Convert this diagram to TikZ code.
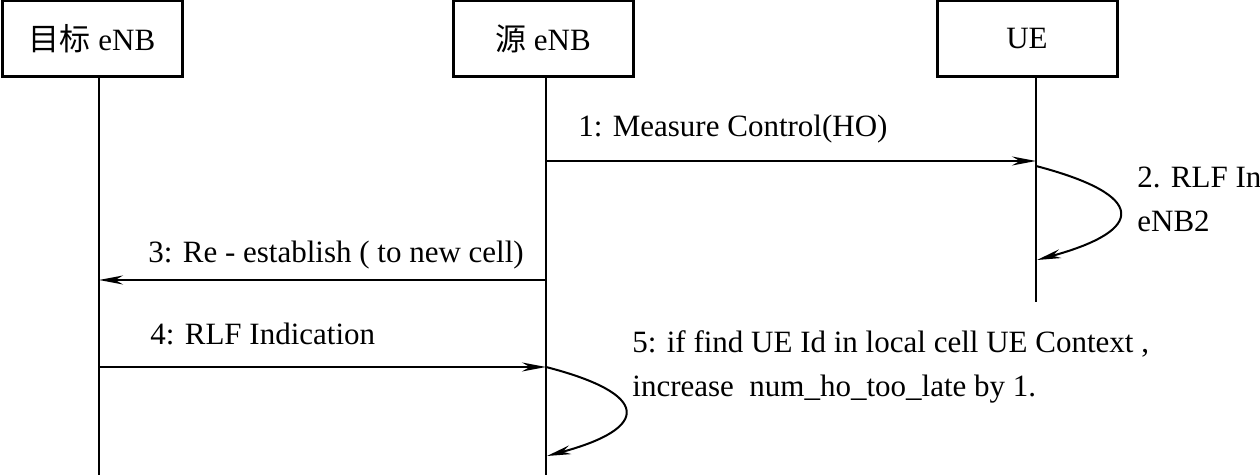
\documentclass[tikz,border=0pt]{standalone}
\usepackage{fontspec}
\setmainfont{Liberation Serif}
\newfontfamily\cjk{Noto Sans CJK SC}
\usetikzlibrary{arrows.meta, positioning}

\begin{document}
\begin{tikzpicture}[
    x=0.5pt, y=-0.5pt,
    node distance=134pt,
    entity/.style={rectangle, draw=black, line width=1.5pt, fill=white, minimum width=90pt, minimum height=38pt, inner sep=0pt, font=\fontsize{15.5}{22}\selectfont},
    lifeline/.style={draw, line width=1pt},
    arrow/.style={draw, line width=1pt, -{Stealth[length=12pt, width=4.5pt]}},
    msg/.style={anchor=base west, inner sep=0pt, align=left, font=\fontsize{15.5}{22}\selectfont}
]
\useasboundingbox (0,0) rectangle (1260,475);
\node [entity] at (92,39) (tgt) {{\cjk 目标} eNB};
\node [entity, right=of tgt] (src) {{\cjk 源} eNB};
\node [entity, right=150.5pt of src] (ue) {UE};
% lifelines
\coordinate (tgtEnd) at (99,475);
\coordinate (srcEnd) at (546,475);
\coordinate (ueEnd) at (1036,302);
\path [lifeline] (tgt.south -| tgtEnd) -- (tgtEnd);
\path [lifeline] (src.south -| srcEnd) -- (srcEnd);
\path [lifeline] (ue.south -| ueEnd) -- (ueEnd);
% messages
\coordinate (m1a) at (546,161);
\coordinate (m1b) at (1036,161);
\coordinate (m3a) at (546,280);
\coordinate (m3b) at (99,280);
\coordinate (m4a) at (99,367);
\coordinate (m4b) at (546,367);
\path [arrow] (m1a) -- (m1b);
\path [arrow] (m3a) -- (m3b);
\path [arrow] (m4a) -- (m4b);
% self loops
\coordinate (ueLoopA) at (1036,166);
\coordinate (ueLoopB) at (1037,260);
\coordinate (srcLoopA) at (546,367);
\coordinate (srcLoopB) at (547,456);
\path [arrow] (ueLoopA) .. controls (1147,195) and (1147,230) .. (ueLoopB);
\path [arrow] (srcLoopA) .. controls (651,394) and (651,428) .. (srcLoopB);
% labels
\node [msg] at (578,137) (lbl1) {1: Measure Control(HO)};
\node [msg] at (1137,232) (lbl2) {2. RLF In\\eNB2};
\node [msg] at (148,263) (lbl3) {3: Re - establish ( to new cell)};
\node [msg] at (150,345) (lbl4) {4: RLF Indication};
\node [msg] at (632,397) (lbl5) {5: if find UE Id in local cell UE Context ,\\increase\ \ num\_ho\_too\_late by 1.};
\end{tikzpicture}
\end{document}
